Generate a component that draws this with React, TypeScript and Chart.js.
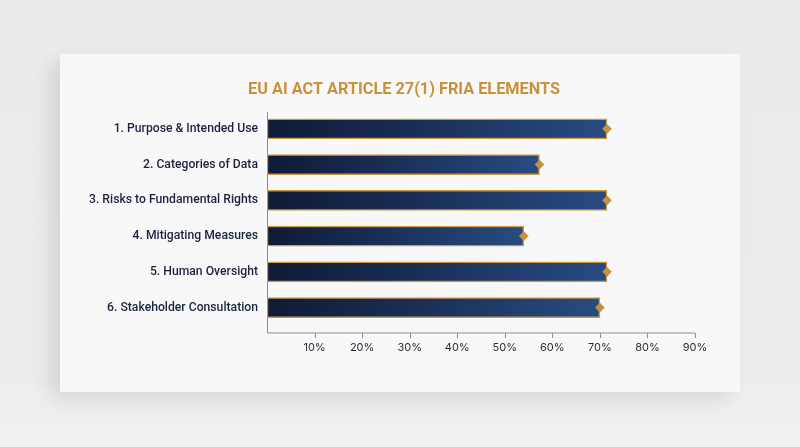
import { useEffect, useRef } from "react";
import { Chart, registerables } from "chart.js";

Chart.register(...registerables);

const TITLE = "EU AI ACT ARTICLE 27(1) FRIA ELEMENTS";
const categories = [
  "1. Purpose & Intended Use",
  "2. Categories of Data",
  "3. Risks to Fundamental Rights",
  "4. Mitigating Measures",
  "5. Human Oversight",
  "6. Stakeholder Consultation",
];
const values = [71.5, 57.3, 71.5, 54, 71.5, 70];
const xMin = 0;
const xMax = 90;
const xStep = 10;

const GOLD = "#c8913a";
const NAVY_DARK = "#0f1b36";
const NAVY_LIGHT = "#284b82";
const AXIS = "#8b8e95";
const TEXT = "#1c2340";

const CARD_W = 680;
const CARD_H = 338;

const axisPlugin = {
  id: "customAxes",
  beforeDatasetsDraw(chart: any) {
    const { ctx, chartArea } = chart;
    const x = chart.scales.x;
    const ext = 7.5;
    const axisY = chartArea.bottom + ext;
    ctx.save();
    ctx.strokeStyle = AXIS;
    ctx.lineWidth = 1;
    ctx.beginPath();
    const left = Math.round(chartArea.left) + 0.5;
    ctx.moveTo(left, chartArea.top + 1);
    ctx.lineTo(left, axisY);
    ctx.lineTo(x.getPixelForValue(xMax), axisY);
    ctx.stroke();
    ctx.beginPath();
    for (let v = xMin + xStep; v <= xMax; v += xStep) {
      const px = Math.round(x.getPixelForValue(v)) + 0.5;
      ctx.moveTo(px, axisY);
      ctx.lineTo(px, axisY + 5);
    }
    ctx.stroke();
    ctx.restore();
  },
};

export default function App() {
  const ref = useRef<HTMLCanvasElement | null>(null);

  useEffect(() => {
    if (!ref.current) return;
    const chart = new Chart(ref.current, {
      type: "bar",
      data: {
        labels: categories,
        datasets: [
          {
            type: "line",
            data: values,
            indexAxis: "y",
            showLine: false,
            pointStyle: "rectRot",
            pointRadius: 4.8,
            pointBackgroundColor: GOLD,
            pointBorderColor: GOLD,
            pointBorderWidth: 0,
            order: 0,
          } as any,
          {
            type: "bar",
            data: values,
            barThickness: 20,
            borderWidth: 1.5,
            borderColor: "#cc9843",
            borderSkipped: false,
            order: 1,
            backgroundColor: (c: any) => {
              const chart = c.chart;
              const xs = chart.scales?.x;
              if (!xs || c.dataIndex === undefined) return NAVY_DARK;
              const x0 = xs.getPixelForValue(0);
              const x1 = xs.getPixelForValue(values[c.dataIndex]);
              if (!isFinite(x0) || !isFinite(x1) || x1 <= x0) return NAVY_DARK;
              const g = chart.ctx.createLinearGradient(x0, 0, x1, 0);
              g.addColorStop(0, NAVY_DARK);
              g.addColorStop(0.35, "#172a4f");
              g.addColorStop(1, NAVY_LIGHT);
              return g;
            },
          } as any,
        ],
      },
      options: {
        indexAxis: "y",
        responsive: false,
        animation: false,
        devicePixelRatio: 1,
        layout: { padding: { left: 8, right: 0, top: 0, bottom: 37.5 } },
        plugins: {
          legend: { display: false },
          tooltip: { enabled: false },
          title: {
            display: true,
            text: TITLE,
            color: GOLD,
            font: { family: "Roboto", size: 16.3, weight: "bold", lineHeight: 1.2 },
            padding: { top: 26, bottom: 11.4 },
          },
        },
        scales: {
          x: {
            type: "linear",
            min: xMin,
            max: xMax,
            grid: { display: false, drawTicks: false },
            border: { display: false },
            afterFit: (s: any) => {
              s.height = 29;
            },
            ticks: {
              stepSize: xStep,
              padding: 16,
              color: "#2b2f3b",
              font: { family: "Inter", size: 11 },
              callback: (v: any) => (Number(v) === 0 ? "" : `${v}%`),
            },
          },
          y: {
            type: "category",
            offset: true,
            grid: { display: false, drawTicks: false },
            border: { display: false },
            afterFit: (s: any) => {
              s.width = 199;
            },
            ticks: {
              padding: 9,
              color: TEXT,
              font: { family: "Roboto", size: 12.2, weight: 500 },
            },
          },
          yRight: {
            type: "category",
            position: "right",
            display: true,
            grid: { display: false, drawTicks: false },
            border: { display: false },
            ticks: { display: false },
            afterFit: (s: any) => {
              s.width = 45;
            },
          },
        },
      },
      plugins: [axisPlugin],
    });
    return () => chart.destroy();
  }, []);

  return (
    <div
      style={{
        position: "fixed",
        inset: 0,
        background:
          "linear-gradient(180deg, #ebebeb 0px, #ececec 380px, #efefef 392px, #f0f0f0 447px)",
        overflow: "hidden",
      }}
    >
      <div
        style={{
          position: "absolute",
          left: 60,
          top: 54,
          width: CARD_W,
          height: CARD_H,
          background: "#f8f8f8",
          boxShadow: "-10px 8px 18px rgba(0,0,0,0.10)",
        }}
      >
        <canvas
          ref={ref}
          width={CARD_W}
          height={CARD_H}
          style={{ display: "block", width: CARD_W, height: CARD_H }}
        />
      </div>
    </div>
  );
}
